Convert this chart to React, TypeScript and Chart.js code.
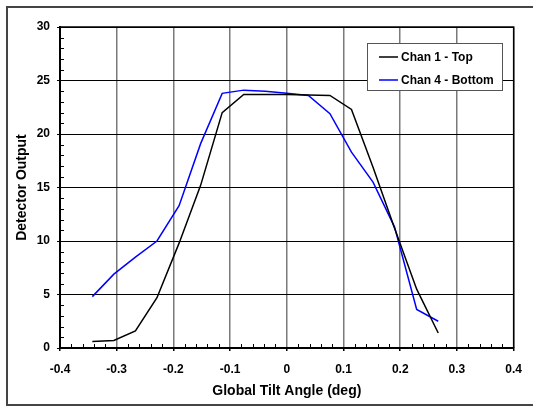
import React, { useEffect, useRef } from "react";
import { Chart, registerables } from "chart.js";

Chart.register(...registerables);

const angles = [-0.343, -0.305, -0.267, -0.229, -0.19, -0.152, -0.114, -0.076, -0.038, 0, 0.038, 0.076, 0.114, 0.152, 0.19, 0.229, 0.267];
const chan1Top = [0.6, 0.7, 1.6, 4.7, 9.8, 15.2, 22.0, 23.7, 23.7, 23.7, 23.65, 23.6, 22.3, 16.9, 11.2, 5.5, 1.4];
const chan4Bottom = [4.8, 6.9, 8.5, 10.0, 13.3, 19.1, 23.8, 24.1, 24.0, 23.8, 23.6, 21.9, 18.3, 15.5, 11.3, 3.6, 2.5];
const seriesNames = ["Chan 1 - Top", "Chan 4 - Bottom"];
const seriesColors = ["#000000", "#0000ff"];
const xTickLabels = ["-0.4", "-0.3", "-0.2", "-0.1", "0", "0.1", "0.2", "0.3", "0.4"];
const yTickLabels = ["0", "5", "10", "15", "20", "25", "30"];
const xTitle = "Global Tilt Angle (deg)";
const yTitle = "Detector Output";

const FONT = "'Liberation Sans', Arial, sans-serif";

const decorPlugin = {
  id: "decor",
  beforeDraw(chart: any) {
    const ctx = chart.ctx;
    ctx.save();
    ctx.fillStyle = "#ffffff";
    ctx.fillRect(0, 0, chart.width, chart.height);
    ctx.strokeStyle = "#444444";
    ctx.lineWidth = 2;
    ctx.strokeRect(7, 7, 540, 398);
    ctx.restore();
  },
  afterDatasetsDraw(chart: any) {
    const ctx = chart.ctx;
    const { left, right, top, bottom } = chart.chartArea;
    const xs = chart.scales.x;
    const ys = chart.scales.y;
    ctx.save();
    // plot frame
    ctx.strokeStyle = "#000";
    ctx.lineWidth = 1.5;
    ctx.beginPath();
    ctx.moveTo(left, top);
    ctx.lineTo(right, top);
    ctx.lineTo(right, bottom);
    ctx.stroke();
    // minor ticks
    ctx.lineWidth = 1;
    ctx.beginPath();
    for (let i = -20; i <= 20; i++) {
      if (i % 5 === 0) continue;
      const px = Math.round(xs.getPixelForValue(i * 0.02)) + 0.5;
      ctx.moveTo(px, bottom);
      ctx.lineTo(px, bottom - 4);
    }
    for (let v = 1; v < 30; v++) {
      if (v % 5 === 0) continue;
      const py = Math.round(ys.getPixelForValue(v)) + 0.5;
      ctx.moveTo(left, py);
      ctx.lineTo(left + 4, py);
    }
    ctx.stroke();
    // legend
    const bx = 367.5, by = 43.5, bw = 135, bh = 47;
    ctx.fillStyle = "#fff";
    ctx.fillRect(bx, by, bw, bh);
    ctx.strokeStyle = "#555";
    ctx.lineWidth = 1;
    ctx.strokeRect(bx, by, bw, bh);
    ctx.font = "bold 12px " + FONT;
    ctx.textBaseline = "middle";
    ctx.textAlign = "left";
    chart.data.datasets.forEach((ds: any, i: number) => {
      const cy = 57 + i * 23;
      ctx.strokeStyle = ds.borderColor;
      ctx.lineWidth = 1.5;
      ctx.beginPath();
      ctx.moveTo(379, cy);
      ctx.lineTo(398, cy);
      ctx.stroke();
      ctx.fillStyle = "#000";
      ctx.fillText(ds.label, 401, cy + 1);
    });
    ctx.restore();
  },
};

export default function App() {
  const ref = useRef<HTMLCanvasElement>(null);
  useEffect(() => {
    const mk = (ys: number[]) => angles.map((x, i) => ({ x, y: ys[i] }));
    const chart = new Chart(ref.current!, {
      type: "scatter",
      data: {
        datasets: [
          { label: seriesNames[0], data: mk(chan1Top), borderColor: seriesColors[0], backgroundColor: seriesColors[0], showLine: true, pointRadius: 0, borderWidth: 1.5, tension: 0 },
          { label: seriesNames[1], data: mk(chan4Bottom), borderColor: seriesColors[1], backgroundColor: seriesColors[1], showLine: true, pointRadius: 0, borderWidth: 1.5, tension: 0 },
        ],
      },
      options: {
        responsive: false,
        animation: false,
        devicePixelRatio: 1,
        layout: { padding: { left: 8, top: 27, right: 19, bottom: 6 } },
        plugins: { legend: { display: false }, tooltip: { enabled: false } },
        scales: {
          x: {
            type: "linear",
            min: -0.4,
            max: 0.4,
            afterFit: (s: any) => { s.height = 406 - 6 - 348; },
            ticks: {
              stepSize: 0.1,
              padding: 11,
              color: "#000",
              font: { family: FONT, size: 12, weight: "bold" },
              callback: (v: any) => xTickLabels[Math.round((Number(v) + 0.4) * 10)] ?? "",
            },
            grid: { color: "#7a7a7a", lineWidth: 1.5, tickLength: 3, tickColor: "#000", drawTicks: true },
            border: { display: true, color: "#000", width: 2 },
            title: { display: true, text: xTitle, color: "#000", font: { family: FONT, size: 14, weight: "bold" }, padding: { top: 0, bottom: 0 } },
          },
          y: {
            type: "linear",
            min: 0,
            max: 30,
            afterFit: (s: any) => { s.width = 60 - 8; },
            ticks: {
              stepSize: 5,
              padding: 7,
              color: "#000",
              font: { family: FONT, size: 12, weight: "bold" },
              callback: (v: any) => yTickLabels[Math.round(Number(v) / 5)] ?? "",
            },
            grid: { color: "#000", lineWidth: 1, tickLength: 3, tickColor: "#000", drawTicks: true },
            border: { display: true, color: "#000", width: 2 },
            title: { display: true, text: yTitle, color: "#000", font: { family: FONT, size: 14, weight: "bold" }, padding: { top: 6, bottom: 0 } },
          },
        },
      },
      plugins: [decorPlugin],
    });
    return () => chart.destroy();
  }, []);
  return (
    <div style={{ position: "fixed", left: 0, top: 0, width: 533, height: 406 }}>
      <canvas ref={ref} width={533} height={406} style={{ width: 533, height: 406, display: "block" }} />
    </div>
  );
}
